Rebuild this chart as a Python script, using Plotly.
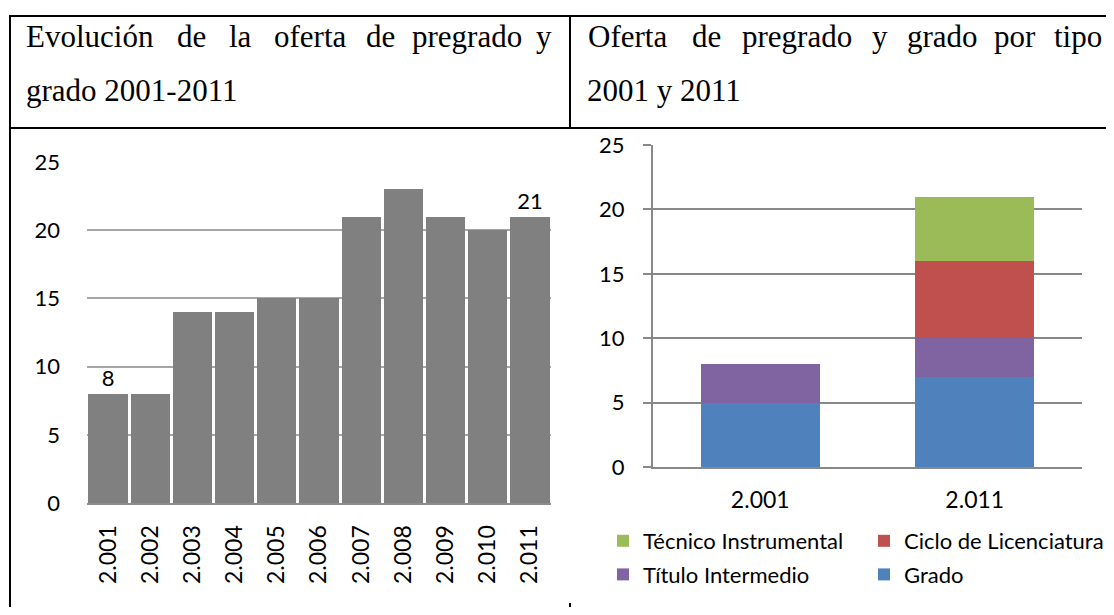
import plotly.graph_objects as go

# the page has an 8px body margin on every side, so the figure is drawn
# 16px smaller (no scrollbars) and every position below is given in
# screen pixels of the 1114x615 window
OFF = 8
W, H = 1114 - 2 * OFF, 615 - 2 * OFF

# left chart: yearly offer
years = ["2.001", "2.002", "2.003", "2.004", "2.005", "2.006",
         "2.007", "2.008", "2.009", "2.010", "2.011"]
offer = [8, 8, 14, 14, 15, 15, 21, 23, 21, 20, 21]
# only first and last value are labelled in the original
labelled = ["2.001", "2.011"]

# right chart: offer by type
type_years = ["2.001", "2.011"]
grado = [5, 7]
titulo_intermedio = [3, 3]
ciclo_licenciatura = [0, 6]
tecnico_instrumental = [0, 5]

y_ticks = [0, 5, 10, 15, 20, 25]

FONT = "Lato, Carlito, 'Open Sans', sans-serif"
SERIF = "'Liberation Serif', 'Times New Roman', serif"


def px_x(x):
    return (x - OFF) / W


def px_y(y):
    return 1 - (y - OFF) / H


fig = go.Figure()

fig.add_trace(go.Bar(
    x=years, y=offer, xaxis="x", yaxis="y",
    marker=dict(color="#808080", line=dict(width=0)),
    text=[str(v) if yr in labelled else "" for yr, v in zip(years, offer)],
    textposition="outside", cliponaxis=False,
    textfont=dict(family=FONT, size=22, color="#000"),
    showlegend=False,
))

# stacked bars, bottom to top
stack = [
    ("Grado", grado, "#4F81BD", "legend2", 2),
    ("Título Intermedio", titulo_intermedio, "#8064A2", "legend", 2),
    ("Ciclo de Licenciatura", ciclo_licenciatura, "#C0504D", "legend2", 1),
    ("Técnico Instrumental", tecnico_instrumental, "#9BBB59", "legend", 1),
]
for name, vals, col, leg, rank in stack:
    fig.add_trace(go.Bar(
        x=type_years, y=vals, name=name, xaxis="x2", yaxis="y2",
        width=0.556, marker=dict(color=col, line=dict(width=0)),
        legend=leg, legendgroup=name, legendrank=rank,
    ))

axis_font = dict(family=FONT, size=22, color="#000")
xtick_font = dict(family=FONT, size=23, color="#000")

fig.update_layout(
    width=W, height=H,
    margin=dict(l=0, r=0, t=0, b=0, autoexpand=False),
    paper_bgcolor="white", plot_bgcolor="white",
    barmode="stack", bargap=0.07,
    xaxis=dict(domain=[px_x(87), px_x(551)], type="category",
               tickangle=-90, tickfont=xtick_font, showgrid=False,
               showline=True, linecolor="#8c8c8c", linewidth=2,
               ticks="", ticklabelstandoff=11),
    yaxis=dict(domain=[px_y(503), px_y(162)], range=[0, 25],
               tickvals=y_ticks, tickfont=axis_font,
               showgrid=True, gridcolor="#a6a6a6", gridwidth=1.5,
               zeroline=False, showline=False, ticks="",
               ticklabelstandoff=26),
    xaxis2=dict(domain=[px_x(653), px_x(1082)], type="category",
                tickfont=xtick_font, showgrid=False,
                showline=True, linecolor="#888888", linewidth=2,
                ticks="", ticklabelstandoff=11, anchor="y2"),
    yaxis2=dict(domain=[px_y(467), px_y(145)], range=[0, 25],
                tickvals=y_ticks, tickfont=axis_font, anchor="x2",
                showgrid=True, gridcolor="#888888", gridwidth=2,
                zeroline=False, showline=True, linecolor="#888888",
                linewidth=2, ticks="outside", ticklen=8,
                tickcolor="#888888", tickwidth=2, ticklabelstandoff=14),
    legend=dict(x=px_x(603), y=px_y(520), xanchor="left", yanchor="top",
                orientation="v", traceorder="grouped", tracegroupgap=2,
                font=axis_font, bgcolor="rgba(0,0,0,0)"),
    legend2=dict(x=px_x(864), y=px_y(520), xanchor="left", yanchor="top",
                 orientation="v", traceorder="grouped", tracegroupgap=2,
                 font=axis_font, bgcolor="rgba(0,0,0,0)"),
)

# table borders
border = dict(color="black", width=2)
for x0, y0, x1, y1 in [
    (9, 16, 1114, 16),
    (9, 128, 1114, 128),
    (10, 16, 10, 615),
    (570, 16, 570, 128),
    (570, 603, 570, 615),
]:
    fig.add_shape(type="line", xref="paper", yref="paper",
                  x0=px_x(x0), y0=px_y(y0), x1=px_x(x1), y1=px_y(y1),
                  line=border)

# header text, justified word by word like the original
head_left = ["Evolución", "de", "la", "oferta", "de", "pregrado", "y"]
head_left_x = [90, 191, 240, 311, 380, 467, 544]
head_right = ["Oferta", "de", "pregrado", "y", "grado", "por", "tipo"]
head_right_x = [627, 706, 797, 880, 942, 1015, 1078]
for words, xs in [(head_left, head_left_x), (head_right, head_right_x)]:
    for wd, xc in zip(words, xs):
        fig.add_annotation(text=wd, x=px_x(xc), y=px_y(36), xref="paper",
                           yref="paper", xanchor="center", yanchor="middle",
                           showarrow=False,
                           font=dict(family=SERIF, size=31, color="#000"))
for txt, xl in [("grado 2001-2011", 24), ("2001 y 2011", 585)]:
    fig.add_annotation(text=txt, x=px_x(xl), y=px_y(90), xref="paper",
                       yref="paper", xanchor="left", yanchor="middle",
                       showarrow=False,
                       font=dict(family=SERIF, size=31, color="#000"))

fig.write_html("out.html")
